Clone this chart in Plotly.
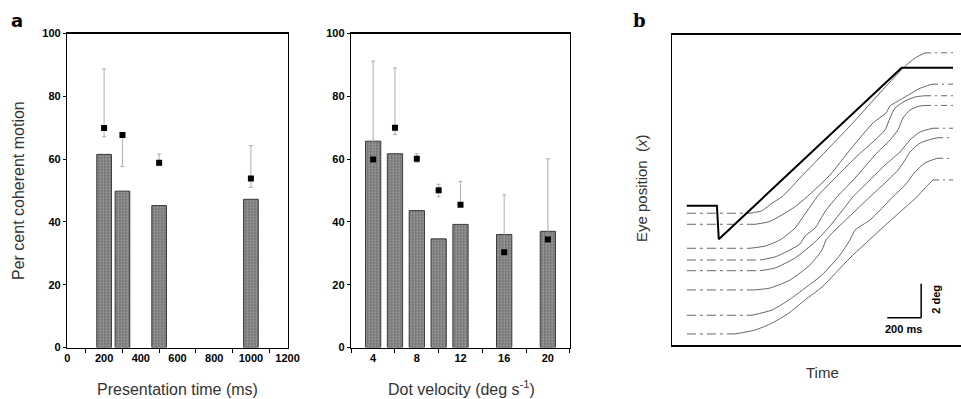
import plotly.graph_objects as go

# ---------------- Panel a (left): presentation time ----------------
pres_time = [200, 300, 500, 1000]
pres_bar = [61.5, 49.8, 45.2, 47.2]
pres_mean = [69.9, 67.7, 58.8, 53.8]
pres_err_hi = [88.7, 67.7, 61.6, 64.3]
pres_err_lo = [67.1, 57.6, 57.9, 51.0]
pres_ticks = [0, 200, 400, 600, 800, 1000, 1200]
pres_minor = [100, 300, 500, 700, 900, 1100]

# ---------------- Panel a (right): dot velocity ----------------
vel = [4, 6, 8, 10, 12, 16, 20]
vel_bar = [65.7, 61.7, 43.6, 34.6, 39.2, 36.0, 37.0]
vel_mean = [59.9, 70.0, 60.1, 50.1, 45.5, 30.3, 34.4]
vel_err_hi = [91.2, 89.0, 61.7, 52.0, 52.9, 48.6, 60.1]
vel_err_lo = [58.5, 67.8, 59.0, 48.0, 45.0, 29.0, 33.0]
vel_ticks = [4, 8, 12, 16, 20]
vel_minor = [2, 6, 10, 14, 18, 22]

pct_ticks = [0, 20, 40, 60, 80, 100]

# ---------------- Panel b: eye position traces (ms, deg) ----------------
STIM_T = [87, 265, 276, 1355, 1658]
STIM_D = [8.19, 8.19, 6.22, 16.31, 16.31]

EYE1_T = [88, 460, 531, 590, 649, 755, 932, 1050, 1168, 1286, 1363, 1434, 1493, 1658]
EYE1_D = [7.75, 7.75, 7.9, 8.34, 8.72, 9.82, 11.65, 12.88, 14.18, 15.47, 16.28, 16.88, 17.18, 17.19]
EYE2_T = [88, 490, 571, 649, 727, 797, 932, 1050, 1186, 1263, 1286, 1328, 1404, 1463, 1534, 1658]
EYE2_D = [7.1, 7.1, 7.25, 7.65, 8.14, 8.72, 10.0, 11.47, 13.06, 13.65, 14.06, 14.31, 14.76, 15.1, 15.34, 15.34]
EYE3_T = [88, 460, 549, 637, 726, 785, 826, 856, 962, 1080, 1198, 1257, 1286, 1316, 1375, 1434, 1493, 1658]
EYE3_D = [5.69, 5.69, 5.82, 6.18, 6.88, 7.71, 8.29, 8.72, 9.82, 11.0, 12.06, 12.65, 13.35, 13.94, 14.35, 14.59, 14.66, 14.66]
EYE4_T = [88, 519, 608, 696, 755, 785, 844, 909, 974, 1080, 1198, 1286, 1333, 1363, 1404, 1451, 1493, 1658]
EYE4_D = [5.0, 5.0, 5.18, 5.59, 5.94, 6.41, 6.88, 7.94, 8.72, 9.82, 11.18, 12.06, 12.65, 13.35, 13.82, 14.03, 14.09, 14.09]
EYE5_T = [88, 519, 608, 726, 844, 932, 1021, 1068, 1168, 1257, 1345, 1404, 1463, 1540, 1658]
EYE5_D = [4.37, 4.37, 4.53, 5.12, 6.06, 7.0, 8.12, 8.72, 9.71, 10.59, 11.35, 12.06, 12.53, 12.75, 12.75]
EYE6_T = [88, 490, 578, 696, 814, 885, 909, 962, 1050, 1168, 1257, 1333, 1375, 1404, 1463, 1564, 1658]
EYE6_D = [3.24, 3.24, 3.35, 3.82, 4.71, 5.59, 6.18, 6.76, 7.59, 8.72, 9.53, 10.29, 10.88, 11.35, 11.88, 12.19, 12.19]
EYE7_T = [88, 472, 590, 690, 785, 885, 991, 1050, 1080, 1168, 1304, 1375, 1434, 1493, 1564, 1658]
EYE7_D = [1.75, 1.75, 2.06, 2.65, 3.35, 4.12, 5.29, 6.18, 6.76, 7.35, 8.72, 9.41, 10.18, 10.71, 10.98, 10.98]
EYE8_T = [88, 372, 490, 590, 690, 785, 885, 1050, 1227, 1345, 1446, 1493, 1540, 1658]
EYE8_D = [0.65, 0.65, 0.88, 1.29, 1.88, 2.65, 3.41, 5.12, 6.76, 7.82, 8.72, 9.24, 9.71, 9.71]

SCALE_T = 200   # ms
SCALE_D = 2     # deg

# ---------------- figure ----------------
W, H = 961, 399
def px(x):
    return x / W
def py(y):
    return 1 - y / H

fig = go.Figure()

bar_marker = dict(
    color="#9c9c9c",
    line=dict(color="#3a3a3a", width=1),
    pattern=dict(shape=".", fgcolor="#1e1e1e", bgcolor="#a2a2a2", size=3, solidity=0.45),
)

fig.add_trace(go.Bar(x=pres_time, y=pres_bar, width=80, marker=bar_marker,
                     xaxis="x", yaxis="y", showlegend=False))
fig.add_trace(go.Bar(x=vel, y=vel_bar, width=1.4, marker=bar_marker,
                     xaxis="x2", yaxis="y2", showlegend=False))

def err_trace(xs, m, hi, lo, xa, ya):
    return go.Scatter(
        x=xs, y=m, mode="markers", xaxis=xa, yaxis=ya, showlegend=False,
        marker=dict(symbol="square", size=6, color="black"),
        error_y=dict(type="data", symmetric=False,
                     array=[h - v for h, v in zip(hi, m)],
                     arrayminus=[v - l for l, v in zip(lo, m)],
                     color="#999999", thickness=0.8, width=2),
    )

fig.add_trace(err_trace(pres_time, pres_mean, pres_err_hi, pres_err_lo, "x", "y"))
fig.add_trace(err_trace(vel, vel_mean, vel_err_hi, vel_err_lo, "x2", "y2"))

# panel b traces
eyes = [(EYE1_T, EYE1_D), (EYE2_T, EYE2_D), (EYE3_T, EYE3_D), (EYE4_T, EYE4_D),
        (EYE5_T, EYE5_D), (EYE6_T, EYE6_D), (EYE7_T, EYE7_D), (EYE8_T, EYE8_D)]
for t, d in eyes:
    fig.add_trace(go.Scatter(x=t[:2], y=d[:2], mode="lines", xaxis="x3", yaxis="y3",
                             line=dict(color="#555", width=0.9, dash="9px,4px,3px,4px"),
                             showlegend=False))
    fig.add_trace(go.Scatter(x=t[1:-1], y=d[1:-1], mode="lines", xaxis="x3", yaxis="y3",
                             line=dict(color="#555", width=0.9, shape="spline", smoothing=0.6),
                             showlegend=False))
    fig.add_trace(go.Scatter(x=t[-2:], y=d[-2:], mode="lines", xaxis="x3", yaxis="y3",
                             line=dict(color="#555", width=0.9, dash="6px,4px,2px,4px"),
                             showlegend=False))

fig.add_trace(go.Scatter(x=STIM_T, y=STIM_D, mode="lines", xaxis="x3", yaxis="y3",
                         line=dict(color="black", width=2), showlegend=False))

# scale bar (anchored near bottom right of panel b)
sb_t0, sb_d0 = 1270, 1.6
fig.add_shape(type="line", xref="x3", yref="y3", x0=sb_t0, x1=sb_t0 + SCALE_T,
              y0=sb_d0, y1=sb_d0, line=dict(color="black", width=1.5))
fig.add_shape(type="line", xref="x3", yref="y3", x0=sb_t0 + SCALE_T, x1=sb_t0 + SCALE_T,
              y0=sb_d0, y1=sb_d0 + SCALE_D, line=dict(color="black", width=1.5))

tickfont = dict(family="Liberation Sans, Arial", size=11, color="black", weight="bold")
axis_common = dict(showline=True, linecolor="black", linewidth=1.5, mirror=True,
                   showgrid=False, zeroline=False, tickfont=tickfont, automargin=False)

fig.update_layout(
    width=W, height=H, autosize=False,
    margin=dict(l=0, r=0, t=0, b=0, pad=0),
    paper_bgcolor="white", plot_bgcolor="white",
    bargap=0,
    xaxis=dict(domain=[px(67.4), px(287.6)], range=[0, 1200], anchor="y",
               tickmode="array", tickvals=pres_ticks, ticks="",
               minor=dict(tickmode="array", tickvals=pres_minor, ticks="outside",
                          ticklen=4, tickcolor="black", tickwidth=1),
               **axis_common),
    yaxis=dict(domain=[py(347.5), py(33.5)], range=[0, 100], anchor="x",
               tickmode="array", tickvals=pct_ticks, ticks="outside", ticklen=3,
               tickcolor="black", **axis_common),
    xaxis2=dict(domain=[px(351.3), px(569.7)], range=[2, 22], anchor="y2",
                tickmode="array", tickvals=vel_ticks, ticks="",
                minor=dict(tickmode="array", tickvals=vel_minor, ticks="outside",
                           ticklen=4, tickcolor="black", tickwidth=1),
                **axis_common),
    yaxis2=dict(domain=[py(347.5), py(33.5)], range=[0, 100], anchor="x2",
                tickmode="array", tickvals=pct_ticks, ticks="outside", ticklen=3,
                tickcolor="black", **axis_common),
    xaxis3=dict(domain=[px(672), 1.0], range=[0, 1705], anchor="y3",
                showline=True, linecolor="black", linewidth=1.5, mirror=True,
                showgrid=False, zeroline=False, showticklabels=False, ticks="",
                automargin=False),
    yaxis3=dict(domain=[py(345), py(34.7)], range=[0, 18.25], anchor="x3",
                showline=True, linecolor="black", linewidth=1.5, mirror=False,
                showgrid=False, zeroline=False, showticklabels=False, ticks="",
                automargin=False),
)

title_font = dict(family="Liberation Sans, Arial", size=16, color="#333")
ann = [
    dict(text="Per cent coherent motion", x=px(18), y=py(191), textangle=-90, font=title_font),
    dict(text="Presentation time (ms)", x=px(177.5), y=py(389), font=title_font),
    dict(text="Dot velocity (deg s<sup>-1</sup>)", x=px(461), y=py(388), font=title_font),
    dict(text="Eye position&nbsp;&nbsp;(<i>x</i>)", x=px(641), y=py(188), textangle=-90,
         font=dict(family="Liberation Sans, Arial", size=15, color="#333")),
    dict(text="Time", x=px(822.7), y=py(372.7),
         font=dict(family="Liberation Sans, Arial", size=15, color="#333")),
    dict(text="a", x=px(16.5), y=py(20),
         font=dict(family="DejaVu Sans", size=18, color="black", weight="bold")),
    dict(text="b", x=px(639), y=py(21),
         font=dict(family="DejaVu Serif", size=18, color="black", weight="bold")),
    dict(text="200 ms", x=px(903.3), y=py(329),
         font=dict(family="Liberation Sans, Arial", size=11, color="black", weight="bold")),
    dict(text="2 deg", x=px(935.7), y=py(299), textangle=-90,
         font=dict(family="Liberation Sans, Arial", size=11, color="black", weight="bold")),
]
for a in ann:
    a.update(xref="paper", yref="paper", showarrow=False, xanchor="center", yanchor="middle")
fig.update_layout(annotations=ann)

fig.write_html("out.html",
               config={"displayModeBar": False, "staticPlot": True},
               post_script="document.body.style.margin='0';document.body.style.overflow='hidden';")
